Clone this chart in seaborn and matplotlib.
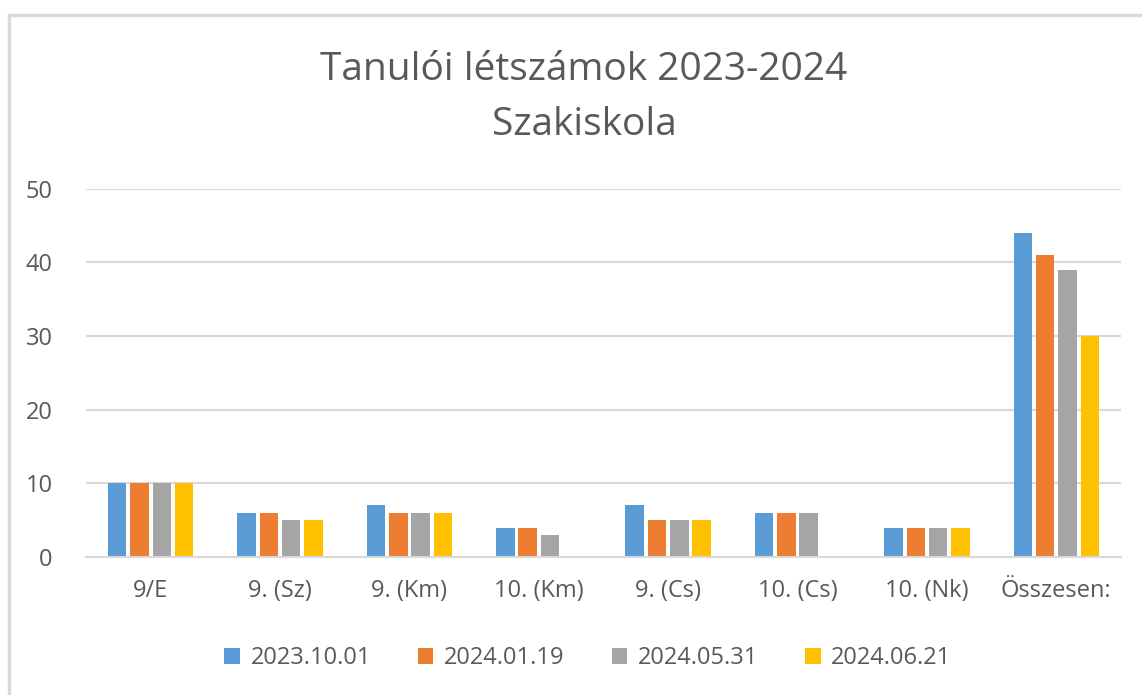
import pandas as pd
import numpy as np
import matplotlib.pyplot as plt
import seaborn as sns
from matplotlib.patches import Rectangle, Patch

categories = ['9/E', '9. (Sz)', '9. (Km)', '10. (Km)', '9. (Cs)', '10. (Cs)', '10. (Nk)', 'Összesen:']
dates = ['2023.10.01', '2024.01.19', '2024.05.31', '2024.06.21']
s_2023_10_01 = [10, 6, 7, 4, 7, 6, 4, 44]
s_2024_01_19 = [10, 6, 6, 4, 5, 6, 4, 41]
s_2024_05_31 = [10, 5, 6, 3, 5, 6, 4, 39]
s_2024_06_21 = [10, 5, 6, 0, 5, 0, 4, 30]
colors = ['#5B9BD5', '#ED7D31', '#A5A5A5', '#FFC000']

rows = []
for d, vals in zip(dates, [s_2023_10_01, s_2024_01_19, s_2024_05_31, s_2024_06_21]):
    for c, v in zip(categories, vals):
        rows.append({'Osztály': c, 'Dátum': d, 'Létszám': v})
df = pd.DataFrame(rows)

sns.set_theme(style='white')
plt.rcParams['font.family'] = ['Open Sans', 'DejaVu Sans']
text_color = '#595959'
grid_color = '#D9D9D9'

fig = plt.figure(figsize=(11.42, 6.95), dpi=100)
ax = fig.add_axes([86 / 1142, 1 - 557 / 695, (1121 - 86) / 1142, (557 - 188.5) / 695])

sns.barplot(data=df, x='Osztály', y='Létszám', hue='Dátum', order=categories,
            hue_order=dates, palette=colors, width=0.69, gap=0.17,
            linewidth=0, saturation=1, ax=ax, legend=False)

ax.set_ylim(0, 50)
ax.set_xlim(-0.5, len(categories) - 0.5)
ax.set_yticks(range(0, 51, 10))
ax.yaxis.grid(True, color=grid_color, linewidth=1.5)
ax.set_axisbelow(True)
for side in ['top', 'right', 'left']:
    ax.spines[side].set_visible(False)
ax.spines['bottom'].set_color(grid_color)
ax.spines['bottom'].set_linewidth(1.5)
ax.tick_params(axis='both', length=0, labelsize=17, labelcolor=text_color)
ax.tick_params(axis='y', pad=24)
ax.tick_params(axis='x', pad=16)
ax.set_xlabel('')
ax.set_ylabel('')

fig.text(584 / 1142, 1 - 70 / 695, 'Tanulói létszámok 2023-2024', ha='center', va='center',
         fontsize=28, color=text_color)
fig.text(584 / 1142, 1 - 125 / 695, 'Szakiskola', ha='center', va='center',
         fontsize=28, color=text_color)

handles = [Patch(facecolor=c, edgecolor='none', label=d) for c, d in zip(colors, dates)]
fig.legend(handles=handles, loc='center', bbox_to_anchor=(588 / 1142, 1 - 658 / 695),
           ncol=4, frameon=False, fontsize=17, labelcolor=text_color,
           handlelength=0.65, handleheight=0.65, handletextpad=0.45, columnspacing=2.0)

fig.patches.append(Rectangle((9 / 1142, -0.1), 1.2, 1.1 - 15 / 695, transform=fig.transFigure,
                             fill=False, edgecolor=grid_color, linewidth=2.5))

fig.savefig('out.png', dpi=100, facecolor='white')
